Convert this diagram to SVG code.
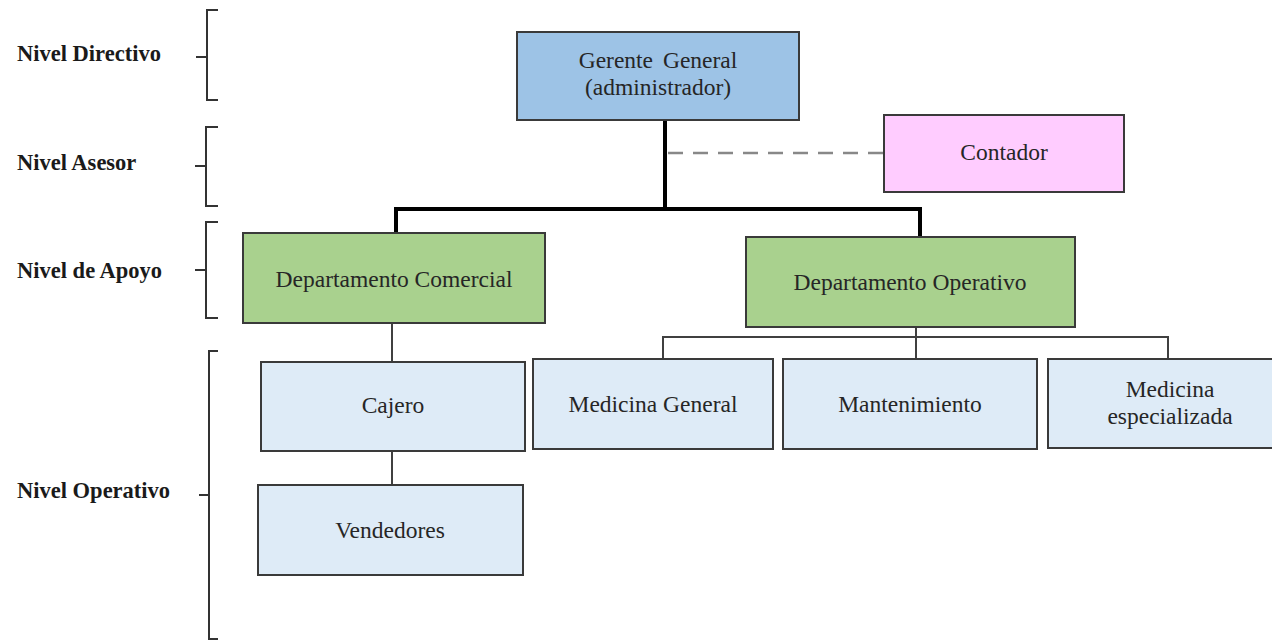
<svg xmlns="http://www.w3.org/2000/svg" width="1272" height="641" viewBox="0 0 1272 641">
<style>
.box{stroke:#3a3a3a;stroke-width:2}
.blue{fill:#9dc3e6}
.pink{fill:#ffccff}
.green{fill:#a9d18e}
.light{fill:#deebf7}
text{font-family:'Liberation Serif','DejaVu Serif',serif}
.t{font-size:23.5px;fill:#262626;text-anchor:middle}
.lbl{font-size:22.5px;font-weight:bold;fill:#1a1a1a}
.br{fill:none;stroke:#333;stroke-width:2}
.thick{fill:none;stroke:#000;stroke-width:4}
.thin{fill:none;stroke:#404040;stroke-width:2}
.dash{fill:none;stroke:#888;stroke-width:2.5;stroke-dasharray:15 10}
</style>
<rect width="1272" height="641" fill="#fff"/>
<g id="levels">
<text class="lbl" x="17" y="61">Nivel Directivo</text>
<path class="br" d="M218,10 H207 V100 H218 M196,57 H207"/>
<text class="lbl" x="17" y="170">Nivel Asesor</text>
<path class="br" d="M218,127 H206 V206 H218 M195,166 H206"/>
<text class="lbl" x="17" y="278">Nivel de Apoyo</text>
<path class="br" d="M218,222 H206 V318 H218 M195,270 H206"/>
<text class="lbl" x="17" y="498">Nivel Operativo</text>
<path class="br" d="M218,351 H209 V639 H218 M199,495 H209"/>
</g>
<g id="connectors">
<path class="thick" d="M665,120 V209 M396,233 V209 H920 V237"/>
<path class="dash" d="M668,153 H884"/>
<path class="thin" d="M392,323 V362 M392,451 V485"/>
<path class="thin" d="M916,327 V337 M663,359 V337 H1168 V359 M916,337 V359"/>
</g>
<g id="gerente">
<rect class="box blue" x="517" y="32" width="282" height="88"/>
<text class="t" x="658" y="68" word-spacing="4">Gerente General</text>
<text class="t" x="658" y="95">(administrador)</text>
</g>
<g id="contador">
<rect class="box pink" x="884" y="115" width="240" height="77"/>
<text class="t" x="1004" y="160">Contador</text>
</g>
<g id="dept-comercial">
<rect class="box green" x="243" y="233" width="302" height="90"/>
<text class="t" x="394" y="287">Departamento Comercial</text>
</g>
<g id="dept-operativo">
<rect class="box green" x="746" y="237" width="329" height="90"/>
<text class="t" x="910" y="290">Departamento Operativo</text>
</g>
<g id="cajero">
<rect class="box light" x="261" y="362" width="264" height="89"/>
<text class="t" x="393" y="413">Cajero</text>
</g>
<g id="vendedores">
<rect class="box light" x="258" y="485" width="265" height="90"/>
<text class="t" x="390" y="538">Vendedores</text>
</g>
<g id="medicina-general">
<rect class="box light" x="533" y="359" width="240" height="90"/>
<text class="t" x="653" y="412">Medicina General</text>
</g>
<g id="mantenimiento">
<rect class="box light" x="783" y="359" width="254" height="90"/>
<text class="t" x="910" y="412">Mantenimiento</text>
</g>
<g id="medicina-especializada">
<rect class="box light" x="1048" y="359" width="240" height="89"/>
<text class="t" x="1170" y="397">Medicina</text>
<text class="t" x="1170" y="424">especializada</text>
</g>
</svg>
